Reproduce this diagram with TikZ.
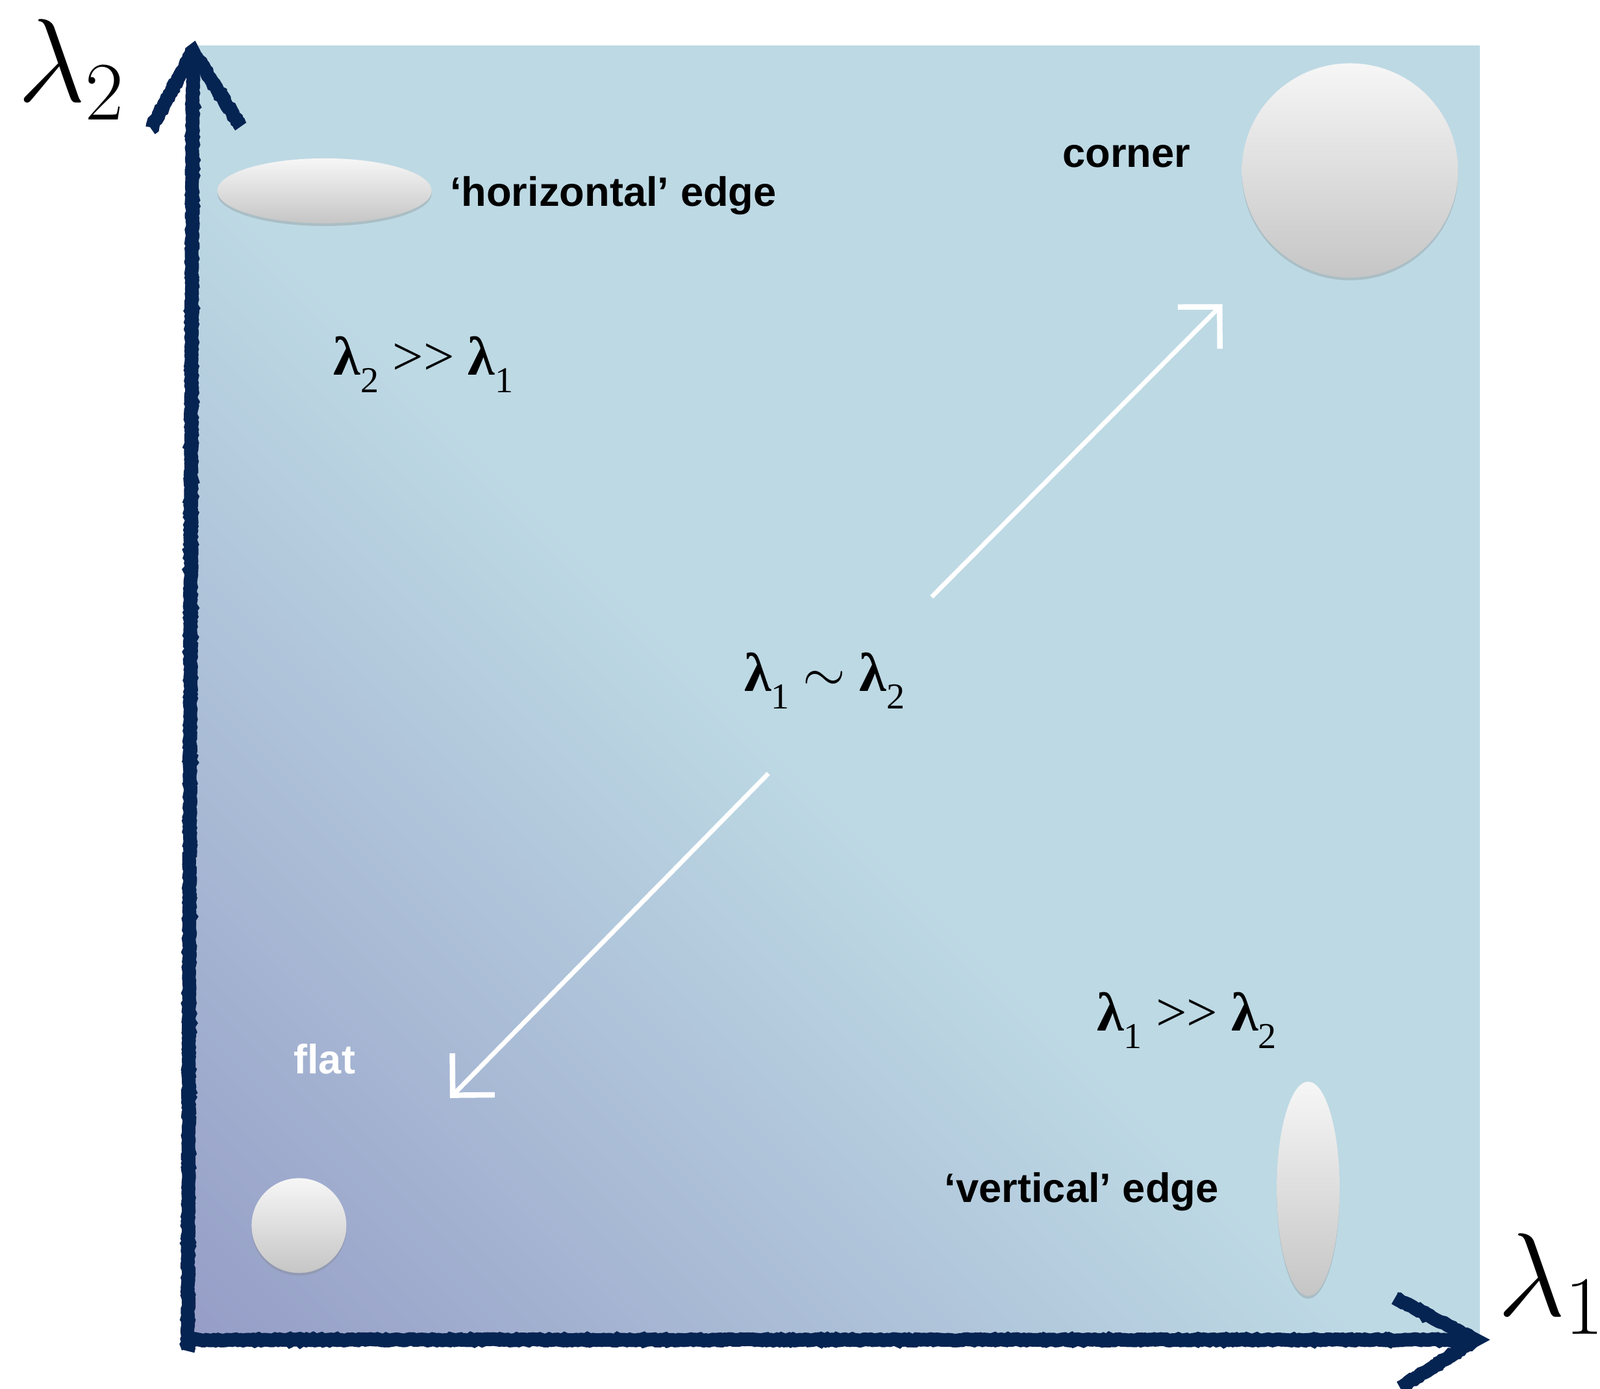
\documentclass[tikz,border=0pt]{standalone}
\usepackage{fix-cm}
\usepackage{fontspec}
\usepackage{tikz}
\usetikzlibrary{positioning,shapes.geometric,arrows.meta,decorations.pathmorphing,shadows}
\newfontfamily\lblfont{Liberation Sans}
\newfontfamily\relfont{Liberation Serif}
\definecolor{panel}{RGB}{189,217,228}
\definecolor{panellow}{RGB}{150,158,199}
\definecolor{chalk}{RGB}{6,36,82}
\pgfdeclareverticalshading{panelfade}{100bp}{color(0bp)=(panellow); color(15bp)=(panellow); color(47bp)=(panel); color(100bp)=(panel)}
\tikzset{
  blob/.style={ellipse,inner sep=0pt,draw=none,top color=gray!7,bottom color=gray!45,
    drop shadow={opacity=.3,shadow xshift=0pt,shadow yshift=-1.2pt}},
  tag/.style={inner sep=0pt,font=\lblfont\bfseries\fontsize{18}{22}\selectfont},
  rel/.style={inner sep=0pt,font=\relfont\fontsize{24}{28}\selectfont},
  axlabel/.style={inner sep=0pt,font=\fontsize{52}{60}\selectfont},
  axis/.style={draw=chalk,line width=6pt,line cap=butt,line join=miter,decorate,
    decoration={random steps,segment length=1pt,amplitude=.35pt}},
  hint/.style={draw=white,line width=2pt,-{Straight Barb[length=13pt,width=26pt,line width=2.4pt]}}
}
\newcommand{\lam}[1]{\textbf{λ}\raisebox{-.32em}{\fontsize{16}{18}\selectfont#1}}

\begin{document}
\begin{tikzpicture}[x=0.015714cm,y=-0.015714cm]
  \useasboundingbox (0,0) rectangle (1568,1361);
  \shade[shading=panelfade,shading angle=-45] (185,45) rectangle (1450,1316);
  \coordinate (ytip) at (189,50);
  \coordinate (xtip) at (1446,1313);
  \draw[axis] (184,1324) -- (ytip);
  \draw[axis] (178,1313) -- (xtip);
  \draw[axis] (148,126) -- (ytip) -- (236,124);
  \draw[axis] (1367,1272) -- (xtip) -- (1372,1360);
  \node[axlabel] (ltwo) at (70,68) {$\lambda_2$};
  \node[axlabel] (lone) at (1520,1258) {$\lambda_1$};
  \node[blob,minimum width=3.3cm,minimum height=1cm] (hedge) at (318,187) {};
  \node[blob,minimum width=3.33cm,minimum height=3.3cm] (corner) at (1323,167) {};
  \node[blob,minimum width=1.46cm,minimum height=1.46cm] (flat) at (293,1201) {};
  \node[blob,minimum width=0.97cm,minimum height=3.3cm] (vedge) at (1282,1165) {};
  \node[tag,right=0.27cm of hedge,yshift=-2pt] (hedgelbl) {‘horizontal’ edge};
  \node[tag] (cornerlbl) at (1104,153) {corner};
  \node[tag,text=white] (flatlbl) at (318,1038) {flat};
  \node[tag] (vedgelbl) at (1060,1168) {‘vertical’ edge};
  \node[rel] (hrel) at (415,357) {\lam{2} >{}> \lam{1}};
  \node[rel] (mrel) at (808,667) {\lam{1} $\sim$ \lam{2}};
  \node[rel] (vrel) at (1163,1000) {\lam{1} >{}> \lam{2}};
  \coordinate (upfrom) at (913,585);
  \coordinate (upto) at (1198,298);
  \coordinate (dnfrom) at (753,758);
  \coordinate (dnto) at (441,1076);
  \draw[hint] (upfrom) -- (upto);
  \draw[hint] (dnfrom) -- (dnto);
\end{tikzpicture}
\end{document}
